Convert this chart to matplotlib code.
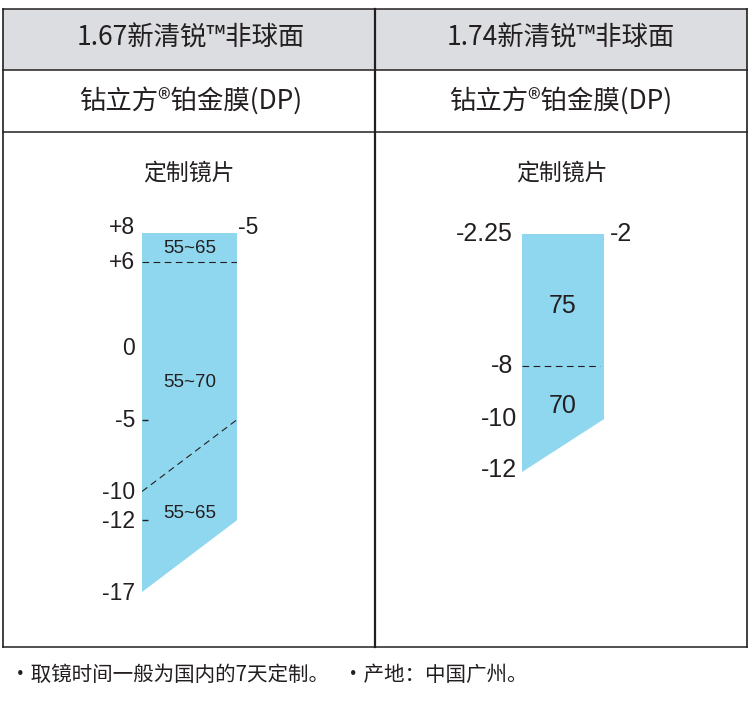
import numpy as np
import matplotlib
matplotlib.use('Agg')
import matplotlib.pyplot as plt
from matplotlib.patches import Rectangle, Polygon

plt.rcParams['font.family'] = ['Liberation Sans', 'Noto Sans CJK SC']
CJK = ['Noto Sans CJK SC', 'DejaVu Sans']

blue = '#8fd7ee'
gray = '#dcdde0'
ink = '#231f20'

# table text
products = ['1.67新清锐™非球面', '1.74新清锐™非球面']
coatings = ['钻立方®铂金膜(DP)', '钻立方®铂金膜(DP)']
panel_title = '定制镜片'
footer = '·取镜时间一般为国内的7天定制。   ·产地：中国广州。'

# 1.67 panel: cylinder 0..-5, sphere range
l_cyl = [0, -5]
l_sph_top = 8
l_sph_bottom = [-17, -12]        # at cyl 0 / cyl -5 (combined -17)
l_split_flat = 6                 # dashed horizontal
l_split_slant = [-10, -5]        # dashed slanted (combined -10)
l_ticks = [8, 6, 0, -5, -10, -12, -17]
l_tick_labels = ['+8', '+6', '0', '-5', '-10', '-12', '-17']
l_zones = ['55~65', '55~70', '55~65']
l_zone_y = [6.9, -2.4, -11.5]

# 1.74 panel: cylinder 0..-2
r_cyl = [0, -2]
r_sph_top = -2.25
r_sph_bottom = [-12, -10]
r_split_flat = -8
r_ticks = [-2.25, -8, -10, -12]
r_tick_labels = ['-2.25', '-8', '-10', '-12']
r_zones = ['75', '70']
r_zone_y = [-5.4, -9.5]

W, H = 750, 711
fig = plt.figure(figsize=(W / 100, H / 100), dpi=100)

# ---- table frame in pixel coordinates
ax0 = fig.add_axes([0, 0, 1, 1])
ax0.set_xlim(0, W)
ax0.set_ylim(H, 0)
ax0.axis('off')

x0, xm, x1 = 3, 375, 747
y0, y1, y2, y3 = 9, 70, 132, 647
ax0.add_patch(Rectangle((x0, y0), x1 - x0, y1 - y0, facecolor=gray, edgecolor='none'))
for y in [y0, y1, y2, y3]:
    ax0.plot([x0, x1], [y, y], color=ink, lw=1.1)
for x in [x0, xm, x1]:
    ax0.plot([x, x], [y0, y3], color=ink, lw=1.2 if x != xm else 1.6)

cols = [(x0 + xm) / 2 + 2, (xm + x1) / 2]
for cx, p, c in zip(cols, products, coatings):
    ax0.text(cx, 38, p, ha='center', va='center', fontsize=19, color=ink, family=CJK)
    ax0.text(cx, 101, c, ha='center', va='center', fontsize=19, color=ink, family=CJK)
ax0.text(189, 173, panel_title, ha='center', va='center', fontsize=16.5, color=ink, family=CJK)
ax0.text(562, 173, panel_title, ha='center', va='center', fontsize=16.5, color=ink, family=CJK)
ax0.text(10, 675, footer, ha='left', va='center', fontsize=14.8, color=ink, family=CJK)


def panel(px_l, px_r, px_t, px_b):
    ax = fig.add_axes([px_l / W, 1 - px_b / H, (px_r - px_l) / W, (px_b - px_t) / H])
    for s in ax.spines.values():
        s.set_visible(False)
    ax.set_xticks([])
    ax.patch.set_alpha(0)
    return ax


def lab(ax, x, y, s, dx, dy, ha, size):
    ax.annotate(s, xy=(x, y), xytext=(dx, dy), textcoords='offset pixels',
                ha=ha, va='center', fontsize=size, color=ink, annotation_clip=False)


# ---- left panel (1.67)
axl = panel(142, 237, 233, 592)
axl.set_xlim(l_cyl[0], l_cyl[1])
axl.set_ylim(l_sph_bottom[0], l_sph_top)
axl.add_patch(Polygon([(l_cyl[0], l_sph_top), (l_cyl[1], l_sph_top),
                       (l_cyl[1], l_sph_bottom[1]), (l_cyl[0], l_sph_bottom[0])],
                      closed=True, facecolor=blue, edgecolor='none'))
axl.plot(l_cyl, [l_split_flat, l_split_flat], ls=(0, (6, 4)), color=ink, lw=0.8)
axl.plot(l_cyl, l_split_slant, ls=(0, (6, 4)), color=ink, lw=0.8)
axl.set_yticks([-5, -12])
axl.tick_params(axis='y', direction='in', length=4, width=1, color=ink, labelleft=False)
for v, s in zip(l_ticks, l_tick_labels):
    lab(axl, l_cyl[0], v, s, -7, 5 if v == l_sph_top else -1, 'right', 16.5)
lab(axl, l_cyl[1], l_sph_top, '-5', 1, 5, 'left', 16.5)
for s, y in zip(l_zones, l_zone_y):
    axl.text(np.mean(l_cyl), y, s, ha='center', va='center', fontsize=13.5, color=ink)

# ---- right panel (1.74), top part drawn compressed as in the print
axr = panel(522, 604, 234, 472)
real = [-30, -12, -8, -2.25, 10]
shown = [-30, -12, -8, -3.0, 9.25]
axr.set_yscale('function', functions=(lambda v: np.interp(v, real, shown),
                                      lambda v: np.interp(v, shown, real)))
axr.set_xlim(r_cyl[0], r_cyl[1])
axr.set_ylim(r_sph_bottom[0], r_sph_top)
axr.add_patch(Polygon([(r_cyl[0], r_sph_top), (r_cyl[1], r_sph_top),
                       (r_cyl[1], r_sph_bottom[1]), (r_cyl[0], r_sph_bottom[0])],
                      closed=True, facecolor=blue, edgecolor='none'))
axr.plot([r_cyl[0], r_cyl[1] * 0.95], [r_split_flat, r_split_flat],
         ls=(0, (6, 4)), color=ink, lw=0.8)
axr.set_yticks([])
for v, s in zip(r_ticks, r_tick_labels):
    dx = -9 if v > -9 else -5
    lab(axr, r_cyl[0], v, s, dx, 2 if v == -12 else 0, 'right', 18)
lab(axr, r_cyl[1], r_sph_top, '-2', 6, 0, 'left', 18)
for s, y in zip(r_zones, r_zone_y):
    axr.text(np.mean(r_cyl), y, s, ha='center', va='center', fontsize=18, color=ink)

fig.savefig('out.png', dpi=100)
